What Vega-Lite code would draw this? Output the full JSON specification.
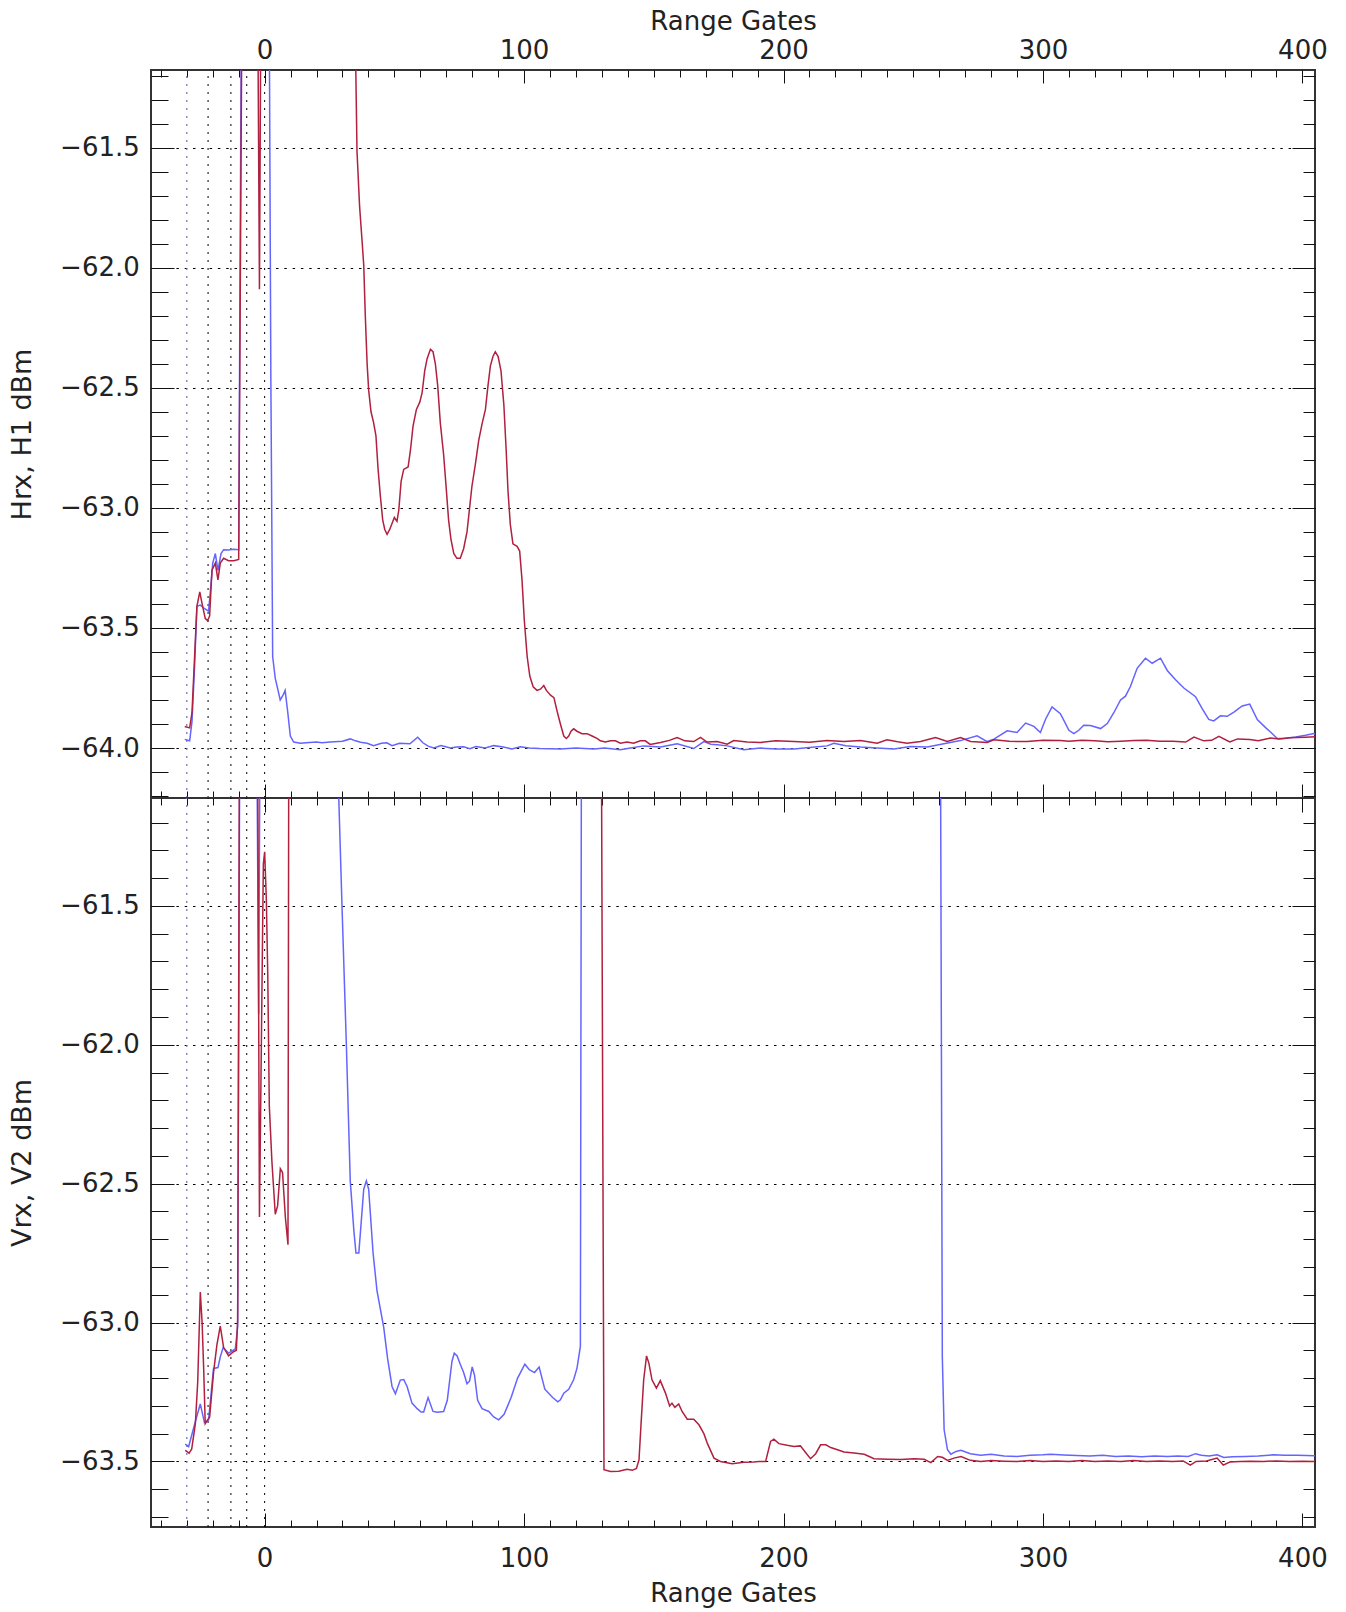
{
  "$schema": "https://vega.github.io/schema/vega-lite/v6.json",
  "background": "white",
  "padding": {"left": 7, "top": 7, "right": 5, "bottom": 5},
  "spacing": 0,
  "bounds": "flush",
  "config": {
    "view": {"stroke": "#333333", "strokeWidth": 2},
    "axis": {
      "labelFont": "DejaVu Sans", "titleFont": "DejaVu Sans",
      "labelFontSize": 26, "titleFontSize": 26,
      "labelColor": "#222222", "titleColor": "#222222",
      "titleFontWeight": "normal",
      "tickColor": "#111111", "tickWidth": 1,
      "domain": false, "grid": false,
      "labelFlush": false, "labelOverlap": false
    }
  },
  "datasets": {
    "hb": [
      {"g": -30.8, "v": -63.964}, {"g": -28.9, "v": -63.97}, {"g": -28.0, "v": -63.89}, {"g": -27.0, "v": -63.66},
      {"g": -26.1, "v": -63.41}, {"g": -24.8, "v": -63.405}, {"g": -23.1, "v": -63.42}, {"g": -21.6, "v": -63.43},
      {"g": -20.7, "v": -63.32}, {"g": -20.0, "v": -63.23}, {"g": -19.0, "v": -63.19}, {"g": -18.0, "v": -63.26},
      {"g": -16.8, "v": -63.19}, {"g": -15.8, "v": -63.174}, {"g": -13.9, "v": -63.175}, {"g": -11.9, "v": -63.172},
      {"g": -10.0, "v": -63.174}, {"g": -9.0, "v": -61.0}, {"g": 1.8, "v": -61.0}, {"g": 2.4, "v": -62.47},
      {"g": 3.1, "v": -63.62}, {"g": 4.1, "v": -63.71}, {"g": 5.1, "v": -63.757}, {"g": 6.0, "v": -63.8},
      {"g": 7.1, "v": -63.78}, {"g": 7.9, "v": -63.76}, {"g": 8.9, "v": -63.85}, {"g": 9.9, "v": -63.95},
      {"g": 11.2, "v": -63.975}, {"g": 13.8, "v": -63.98}, {"g": 16, "v": -63.978}, {"g": 20, "v": -63.975},
      {"g": 22.1, "v": -63.978}, {"g": 25.3, "v": -63.975}, {"g": 30, "v": -63.972}, {"g": 33, "v": -63.962},
      {"g": 35, "v": -63.97}, {"g": 37, "v": -63.976}, {"g": 39.5, "v": -63.98}, {"g": 42, "v": -63.99},
      {"g": 45, "v": -63.98}, {"g": 47.1, "v": -63.978}, {"g": 49.1, "v": -63.99}, {"g": 52, "v": -63.98},
      {"g": 56, "v": -63.982}, {"g": 59, "v": -63.955}, {"g": 61, "v": -63.978}, {"g": 63, "v": -63.992},
      {"g": 65.2, "v": -64.0}, {"g": 68, "v": -63.99}, {"g": 71.6, "v": -64.0}, {"g": 74, "v": -63.996},
      {"g": 76.7, "v": -63.995}, {"g": 79.1, "v": -64.003}, {"g": 81.5, "v": -63.994}, {"g": 85, "v": -64.0},
      {"g": 88.3, "v": -63.99}, {"g": 92, "v": -63.996}, {"g": 95.3, "v": -64.004}, {"g": 98.5, "v": -63.995},
      {"g": 102, "v": -64.0}, {"g": 106, "v": -64.002}, {"g": 110, "v": -64.003}, {"g": 114, "v": -64.004},
      {"g": 120, "v": -64.0}, {"g": 126.9, "v": -64.004}, {"g": 131, "v": -64.0}, {"g": 137.1, "v": -64.007},
      {"g": 141, "v": -64.0}, {"g": 146.1, "v": -63.991}, {"g": 152.6, "v": -63.996}, {"g": 159.0, "v": -63.982},
      {"g": 165.4, "v": -64.002}, {"g": 169.3, "v": -63.973}, {"g": 172, "v": -63.984}, {"g": 174.4, "v": -63.986},
      {"g": 178.3, "v": -63.991}, {"g": 184.7, "v": -64.007}, {"g": 191.1, "v": -64.0}, {"g": 197, "v": -64.004},
      {"g": 204.0, "v": -64.004}, {"g": 210, "v": -63.998}, {"g": 216.8, "v": -63.991}, {"g": 219.4, "v": -63.98},
      {"g": 224, "v": -63.99}, {"g": 229.7, "v": -63.996}, {"g": 236, "v": -64.0}, {"g": 242.5, "v": -64.004},
      {"g": 248.9, "v": -63.994}, {"g": 255.4, "v": -63.996}, {"g": 261.8, "v": -63.982}, {"g": 268.2, "v": -63.969},
      {"g": 274.6, "v": -63.949}, {"g": 278.5, "v": -63.973}, {"g": 281.1, "v": -63.963}, {"g": 286.2, "v": -63.928},
      {"g": 290.0, "v": -63.935}, {"g": 293.3, "v": -63.896}, {"g": 296.5, "v": -63.91}, {"g": 299.0, "v": -63.935},
      {"g": 301, "v": -63.88}, {"g": 303.5, "v": -63.829}, {"g": 306.7, "v": -63.857}, {"g": 308.0, "v": -63.884},
      {"g": 310.0, "v": -63.926}, {"g": 311.9, "v": -63.94}, {"g": 313.8, "v": -63.926}, {"g": 315.7, "v": -63.905},
      {"g": 318.3, "v": -63.906}, {"g": 322.2, "v": -63.919}, {"g": 324.8, "v": -63.898}, {"g": 327.3, "v": -63.853},
      {"g": 329.9, "v": -63.8}, {"g": 331.8, "v": -63.784}, {"g": 333.7, "v": -63.744}, {"g": 336.3, "v": -63.668},
      {"g": 339.5, "v": -63.626}, {"g": 342.1, "v": -63.647}, {"g": 345.3, "v": -63.626}, {"g": 347.9, "v": -63.677},
      {"g": 351.1, "v": -63.716}, {"g": 354.3, "v": -63.75}, {"g": 358.8, "v": -63.786}, {"g": 361.3, "v": -63.835},
      {"g": 363.9, "v": -63.881}, {"g": 365.8, "v": -63.887}, {"g": 368.4, "v": -63.866}, {"g": 371.0, "v": -63.868},
      {"g": 373.6, "v": -63.85}, {"g": 376.8, "v": -63.825}, {"g": 379.7, "v": -63.817}, {"g": 382.6, "v": -63.881},
      {"g": 385.8, "v": -63.915}, {"g": 387.7, "v": -63.933}, {"g": 390.3, "v": -63.96}, {"g": 393.0, "v": -63.96},
      {"g": 397.4, "v": -63.954}, {"g": 401.2, "v": -63.947}, {"g": 404.4, "v": -63.94}, {"g": 405.5, "v": -63.945}
    ],
    "hr": [
      {"g": -30.8, "v": -63.91}, {"g": -28.9, "v": -63.916}, {"g": -28.0, "v": -63.853}, {"g": -27.0, "v": -63.62},
      {"g": -26.1, "v": -63.41}, {"g": -25.0, "v": -63.35}, {"g": -24.1, "v": -63.4}, {"g": -22.9, "v": -63.46},
      {"g": -22.0, "v": -63.47}, {"g": -21.2, "v": -63.45}, {"g": -20.3, "v": -63.26}, {"g": -19.0, "v": -63.23},
      {"g": -18.0, "v": -63.3}, {"g": -17.1, "v": -63.23}, {"g": -15.8, "v": -63.21}, {"g": -13.9, "v": -63.22},
      {"g": -11.9, "v": -63.22}, {"g": -10.0, "v": -63.215}, {"g": -8.8, "v": -61.0}, {"g": -2.6, "v": -61.0},
      {"g": -2.0, "v": -62.09}, {"g": -1.5, "v": -61.0}, {"g": 34.9, "v": -61.0}, {"g": 35.6, "v": -61.515},
      {"g": 36.6, "v": -61.745}, {"g": 37.5, "v": -61.88}, {"g": 38.2, "v": -61.99}, {"g": 38.8, "v": -62.2},
      {"g": 39.5, "v": -62.4}, {"g": 40.1, "v": -62.51}, {"g": 41.0, "v": -62.6}, {"g": 42.0, "v": -62.645},
      {"g": 42.9, "v": -62.7}, {"g": 43.7, "v": -62.835}, {"g": 44.6, "v": -62.95}, {"g": 45.5, "v": -63.05},
      {"g": 46.3, "v": -63.09}, {"g": 47.2, "v": -63.11}, {"g": 48.2, "v": -63.09}, {"g": 49.1, "v": -63.065},
      {"g": 50.0, "v": -63.04}, {"g": 51.0, "v": -63.056}, {"g": 51.7, "v": -63.01}, {"g": 52.6, "v": -62.89},
      {"g": 53.6, "v": -62.84}, {"g": 55.3, "v": -62.83}, {"g": 56.2, "v": -62.76}, {"g": 57.2, "v": -62.66},
      {"g": 58.5, "v": -62.59}, {"g": 59.8, "v": -62.56}, {"g": 60.7, "v": -62.52}, {"g": 61.7, "v": -62.43},
      {"g": 62.6, "v": -62.38}, {"g": 63.9, "v": -62.34}, {"g": 64.9, "v": -62.35}, {"g": 65.8, "v": -62.4},
      {"g": 66.7, "v": -62.49}, {"g": 67.7, "v": -62.645}, {"g": 69.0, "v": -62.78}, {"g": 70.0, "v": -62.92},
      {"g": 70.9, "v": -63.05}, {"g": 71.8, "v": -63.13}, {"g": 72.9, "v": -63.19}, {"g": 74.1, "v": -63.21},
      {"g": 75.4, "v": -63.21}, {"g": 76.7, "v": -63.17}, {"g": 78.0, "v": -63.1}, {"g": 79.1, "v": -62.99},
      {"g": 79.9, "v": -62.91}, {"g": 81.2, "v": -62.82}, {"g": 82.5, "v": -62.72}, {"g": 83.8, "v": -62.65},
      {"g": 85.1, "v": -62.59}, {"g": 86.1, "v": -62.49}, {"g": 87.0, "v": -62.41}, {"g": 88.0, "v": -62.37},
      {"g": 88.9, "v": -62.35}, {"g": 90.0, "v": -62.37}, {"g": 91.1, "v": -62.43}, {"g": 92.2, "v": -62.57},
      {"g": 93.1, "v": -62.76}, {"g": 93.8, "v": -62.93}, {"g": 94.7, "v": -63.07}, {"g": 95.7, "v": -63.15},
      {"g": 97.3, "v": -63.16}, {"g": 98.3, "v": -63.18}, {"g": 99.2, "v": -63.3}, {"g": 100.1, "v": -63.47},
      {"g": 101.2, "v": -63.62}, {"g": 102.2, "v": -63.7}, {"g": 103.5, "v": -63.745}, {"g": 105.0, "v": -63.76},
      {"g": 106.3, "v": -63.755}, {"g": 107.6, "v": -63.74}, {"g": 108.6, "v": -63.76}, {"g": 110.2, "v": -63.78},
      {"g": 111.5, "v": -63.79}, {"g": 112.8, "v": -63.85}, {"g": 114.0, "v": -63.9}, {"g": 115.3, "v": -63.95},
      {"g": 116.3, "v": -63.96}, {"g": 117.2, "v": -63.95}, {"g": 118.1, "v": -63.93}, {"g": 119.1, "v": -63.92},
      {"g": 120.4, "v": -63.93}, {"g": 122.3, "v": -63.94}, {"g": 124.3, "v": -63.94}, {"g": 126.2, "v": -63.95},
      {"g": 128.1, "v": -63.96}, {"g": 129.4, "v": -63.97}, {"g": 131.3, "v": -63.975}, {"g": 133.3, "v": -63.97},
      {"g": 135.2, "v": -63.97}, {"g": 137.1, "v": -63.98}, {"g": 139.7, "v": -63.975}, {"g": 142.2, "v": -63.98},
      {"g": 144.8, "v": -63.97}, {"g": 146.7, "v": -63.97}, {"g": 148.6, "v": -63.985}, {"g": 152.6, "v": -63.977},
      {"g": 156, "v": -63.968}, {"g": 159.0, "v": -63.956}, {"g": 162, "v": -63.97}, {"g": 165.4, "v": -63.973},
      {"g": 168.0, "v": -63.956}, {"g": 170.5, "v": -63.975}, {"g": 174.4, "v": -63.973}, {"g": 178.3, "v": -63.984},
      {"g": 180.8, "v": -63.969}, {"g": 186, "v": -63.975}, {"g": 191.1, "v": -63.977}, {"g": 197, "v": -63.97},
      {"g": 204.0, "v": -63.973}, {"g": 210, "v": -63.976}, {"g": 216.8, "v": -63.969}, {"g": 223.2, "v": -63.973},
      {"g": 229.7, "v": -63.969}, {"g": 236.1, "v": -63.98}, {"g": 239.9, "v": -63.966}, {"g": 244, "v": -63.974},
      {"g": 247.6, "v": -63.98}, {"g": 252.8, "v": -63.973}, {"g": 258.6, "v": -63.956}, {"g": 263.1, "v": -63.973},
      {"g": 268.2, "v": -63.956}, {"g": 272.1, "v": -63.973}, {"g": 278.5, "v": -63.977}, {"g": 281.1, "v": -63.966},
      {"g": 287, "v": -63.972}, {"g": 293.9, "v": -63.973}, {"g": 300, "v": -63.968}, {"g": 306.7, "v": -63.969},
      {"g": 310, "v": -63.972}, {"g": 315, "v": -63.968}, {"g": 320, "v": -63.97}, {"g": 325, "v": -63.974},
      {"g": 330, "v": -63.972}, {"g": 335, "v": -63.969}, {"g": 340, "v": -63.968}, {"g": 345, "v": -63.972},
      {"g": 350, "v": -63.972}, {"g": 355, "v": -63.975}, {"g": 358.2, "v": -63.954}, {"g": 362, "v": -63.97},
      {"g": 365, "v": -63.968}, {"g": 367.8, "v": -63.951}, {"g": 372, "v": -63.975}, {"g": 375, "v": -63.962},
      {"g": 379.7, "v": -63.964}, {"g": 383, "v": -63.97}, {"g": 387.7, "v": -63.958}, {"g": 391, "v": -63.962},
      {"g": 395, "v": -63.957}, {"g": 401, "v": -63.955}, {"g": 405.5, "v": -63.953}
    ],
    "vb": [
      {"g": -30.6, "v": -63.438}, {"g": -29.3, "v": -63.447}, {"g": -26.7, "v": -63.356}, {"g": -24.8, "v": -63.293},
      {"g": -23.2, "v": -63.36}, {"g": -21.6, "v": -63.35}, {"g": -19.7, "v": -63.165}, {"g": -18.0, "v": -63.162},
      {"g": -17.1, "v": -63.124}, {"g": -16.0, "v": -63.09}, {"g": -13.9, "v": -63.11}, {"g": -11.3, "v": -63.095},
      {"g": -10.4, "v": -63.016}, {"g": -9.6, "v": -60.9}, {"g": -3.0, "v": -60.9}, {"g": -2.3, "v": -61.89},
      {"g": -1.8, "v": -60.9}, {"g": 27.9, "v": -60.9}, {"g": 29.8, "v": -61.495}, {"g": 31.5, "v": -62.0},
      {"g": 33.0, "v": -62.49}, {"g": 34.4, "v": -62.67}, {"g": 35.2, "v": -62.75}, {"g": 36.3, "v": -62.75},
      {"g": 38.2, "v": -62.52}, {"g": 39.2, "v": -62.49}, {"g": 40.1, "v": -62.52}, {"g": 41.8, "v": -62.75},
      {"g": 43.3, "v": -62.885}, {"g": 45.9, "v": -63.017}, {"g": 47.4, "v": -63.13}, {"g": 49.1, "v": -63.23},
      {"g": 50.4, "v": -63.256}, {"g": 52.3, "v": -63.207}, {"g": 53.6, "v": -63.205}, {"g": 54.9, "v": -63.23},
      {"g": 56.8, "v": -63.29}, {"g": 58.8, "v": -63.31}, {"g": 60.3, "v": -63.322}, {"g": 61.3, "v": -63.322},
      {"g": 63.0, "v": -63.27}, {"g": 64.9, "v": -63.32}, {"g": 66.5, "v": -63.323}, {"g": 69.0, "v": -63.32},
      {"g": 70.4, "v": -63.28}, {"g": 72.2, "v": -63.14}, {"g": 73.1, "v": -63.11}, {"g": 74.2, "v": -63.12},
      {"g": 75.4, "v": -63.15}, {"g": 76.7, "v": -63.18}, {"g": 78.0, "v": -63.22}, {"g": 79.0, "v": -63.21},
      {"g": 80.0, "v": -63.16}, {"g": 80.9, "v": -63.19}, {"g": 82.1, "v": -63.28}, {"g": 83.8, "v": -63.31},
      {"g": 86.4, "v": -63.32}, {"g": 88.3, "v": -63.34}, {"g": 90.2, "v": -63.35}, {"g": 92.3, "v": -63.33},
      {"g": 95.0, "v": -63.27}, {"g": 97.5, "v": -63.2}, {"g": 100.3, "v": -63.15}, {"g": 102.0, "v": -63.17},
      {"g": 104.0, "v": -63.18}, {"g": 105.8, "v": -63.16}, {"g": 108.0, "v": -63.24}, {"g": 111.0, "v": -63.27},
      {"g": 113.0, "v": -63.285}, {"g": 114.0, "v": -63.278}, {"g": 115.3, "v": -63.254}, {"g": 117.2, "v": -63.24},
      {"g": 119.1, "v": -63.206}, {"g": 120.4, "v": -63.164}, {"g": 121.7, "v": -63.086}, {"g": 122.1, "v": -60.9},
      {"g": 260.5, "v": -60.9}, {"g": 261.2, "v": -63.122}, {"g": 261.9, "v": -63.386}, {"g": 263.2, "v": -63.458},
      {"g": 264.5, "v": -63.474}, {"g": 266.5, "v": -63.464}, {"g": 268.4, "v": -63.46}, {"g": 272, "v": -63.472},
      {"g": 276, "v": -63.478}, {"g": 280, "v": -63.474}, {"g": 285, "v": -63.48}, {"g": 290, "v": -63.482},
      {"g": 295, "v": -63.478}, {"g": 300, "v": -63.476}, {"g": 303, "v": -63.474}, {"g": 308, "v": -63.477},
      {"g": 313, "v": -63.479}, {"g": 318, "v": -63.48}, {"g": 323, "v": -63.478}, {"g": 328, "v": -63.482},
      {"g": 333, "v": -63.48}, {"g": 338, "v": -63.483}, {"g": 343, "v": -63.48}, {"g": 348, "v": -63.482},
      {"g": 352, "v": -63.48}, {"g": 356, "v": -63.482}, {"g": 358.8, "v": -63.472}, {"g": 361, "v": -63.478},
      {"g": 364, "v": -63.48}, {"g": 367.1, "v": -63.476}, {"g": 369.7, "v": -63.486}, {"g": 373, "v": -63.483},
      {"g": 378, "v": -63.482}, {"g": 383, "v": -63.48}, {"g": 388.9, "v": -63.476}, {"g": 393, "v": -63.478},
      {"g": 398, "v": -63.478}, {"g": 405.5, "v": -63.48}
    ],
    "vr": [
      {"g": -30.6, "v": -63.46}, {"g": -29.1, "v": -63.47}, {"g": -28.1, "v": -63.455}, {"g": -26.7, "v": -63.364},
      {"g": -25.8, "v": -63.215}, {"g": -24.8, "v": -62.89}, {"g": -24.1, "v": -63.0}, {"g": -23.5, "v": -63.165},
      {"g": -22.9, "v": -63.364}, {"g": -21.2, "v": -63.34}, {"g": -19.7, "v": -63.18}, {"g": -18.4, "v": -63.08},
      {"g": -17.1, "v": -63.013}, {"g": -15.8, "v": -63.09}, {"g": -13.9, "v": -63.12}, {"g": -12.0, "v": -63.105},
      {"g": -10.9, "v": -63.1}, {"g": -10.4, "v": -62.99}, {"g": -9.7, "v": -60.9}, {"g": -2.7, "v": -60.9},
      {"g": -2.0, "v": -62.62}, {"g": -0.5, "v": -61.35}, {"g": 0.0, "v": -61.305}, {"g": 0.66, "v": -61.478},
      {"g": 1.2, "v": -61.743}, {"g": 1.8, "v": -62.22}, {"g": 2.8, "v": -62.42}, {"g": 4.1, "v": -62.61},
      {"g": 5.0, "v": -62.58}, {"g": 6.05, "v": -62.446}, {"g": 6.9, "v": -62.46}, {"g": 7.98, "v": -62.62},
      {"g": 9.0, "v": -62.72}, {"g": 9.3, "v": -60.9}, {"g": 129.8, "v": -60.9}, {"g": 130.8, "v": -63.53},
      {"g": 133.3, "v": -63.536}, {"g": 136.5, "v": -63.535}, {"g": 139.7, "v": -63.528}, {"g": 141.7, "v": -63.532},
      {"g": 143.3, "v": -63.525}, {"g": 144.3, "v": -63.494}, {"g": 145.1, "v": -63.362}, {"g": 146.1, "v": -63.206},
      {"g": 147.2, "v": -63.12}, {"g": 148.1, "v": -63.146}, {"g": 149.3, "v": -63.206}, {"g": 151.0, "v": -63.236},
      {"g": 152.5, "v": -63.209}, {"g": 154.5, "v": -63.254}, {"g": 156.1, "v": -63.3}, {"g": 157.0, "v": -63.29},
      {"g": 158.1, "v": -63.305}, {"g": 159.6, "v": -63.293}, {"g": 160.9, "v": -63.32}, {"g": 162.9, "v": -63.348},
      {"g": 165.4, "v": -63.348}, {"g": 167.4, "v": -63.368}, {"g": 169.3, "v": -63.4}, {"g": 170.6, "v": -63.434},
      {"g": 173.2, "v": -63.488}, {"g": 175.7, "v": -63.5}, {"g": 180.2, "v": -63.508}, {"g": 184.7, "v": -63.503},
      {"g": 188.5, "v": -63.502}, {"g": 190.5, "v": -63.5}, {"g": 193.1, "v": -63.5}, {"g": 195.0, "v": -63.428},
      {"g": 196.3, "v": -63.42}, {"g": 198.2, "v": -63.436}, {"g": 201.4, "v": -63.442}, {"g": 204.0, "v": -63.446},
      {"g": 206.5, "v": -63.444}, {"g": 208.5, "v": -63.468}, {"g": 210.4, "v": -63.49}, {"g": 212.4, "v": -63.472},
      {"g": 214.3, "v": -63.44}, {"g": 216.3, "v": -63.44}, {"g": 218.2, "v": -63.45}, {"g": 220.8, "v": -63.458},
      {"g": 223.3, "v": -63.466}, {"g": 227.2, "v": -63.47}, {"g": 231.1, "v": -63.474}, {"g": 233.0, "v": -63.482},
      {"g": 234.9, "v": -63.49}, {"g": 240.1, "v": -63.492}, {"g": 245.2, "v": -63.493}, {"g": 250.3, "v": -63.49},
      {"g": 254.2, "v": -63.492}, {"g": 256.8, "v": -63.504}, {"g": 259.4, "v": -63.482}, {"g": 261.2, "v": -63.485},
      {"g": 263.2, "v": -63.496}, {"g": 265.7, "v": -63.488}, {"g": 268.4, "v": -63.482}, {"g": 272, "v": -63.496},
      {"g": 276, "v": -63.5}, {"g": 280, "v": -63.497}, {"g": 285, "v": -63.499}, {"g": 290, "v": -63.5},
      {"g": 295, "v": -63.497}, {"g": 300, "v": -63.5}, {"g": 305, "v": -63.498}, {"g": 310, "v": -63.5},
      {"g": 315, "v": -63.497}, {"g": 320, "v": -63.5}, {"g": 325, "v": -63.498}, {"g": 330, "v": -63.5},
      {"g": 335, "v": -63.497}, {"g": 340, "v": -63.5}, {"g": 345, "v": -63.498}, {"g": 350, "v": -63.5},
      {"g": 354, "v": -63.498}, {"g": 356.8, "v": -63.513}, {"g": 359, "v": -63.5}, {"g": 363, "v": -63.498},
      {"g": 367.1, "v": -63.488}, {"g": 369.5, "v": -63.513}, {"g": 372, "v": -63.502}, {"g": 376, "v": -63.5},
      {"g": 380, "v": -63.499}, {"g": 385, "v": -63.5}, {"g": 390, "v": -63.498}, {"g": 395, "v": -63.5},
      {"g": 400, "v": -63.499}, {"g": 405.5, "v": -63.5}
    ],
    "vpurple": [{"g": -30}],
    "vblack": [{"g": -21.8}, {"g": -13}, {"g": -6.9}, {"g": 0}]
  },
  "vconcat": [
    {
      "width": 1164,
      "height": 728,
      "resolve": {"axis": {"x": "independent", "y": "independent"}},
      "layer": [
        {
          "data": {"name": "vpurple"},
          "mark": {"type": "rule", "stroke": "#6e6eb0", "strokeDash": [2, 6], "strokeWidth": 1.2},
          "encoding": {
            "x": {"field": "g", "type": "quantitative", "scale": {"domain": [-43.8, 404.85], "nice": false, "zero": false},
              "axis": {"orient": "bottom", "title": null, "labels": false, "tickSize": -7,
                "values": [-40,-30,-20,-10,10,20,30,40,50,60,70,80,90,110,120,130,140,150,160,170,180,190,210,220,230,240,250,260,270,280,290,310,320,330,340,350,360,370,380,390]}},
            "y": {"datum": -64.208, "type": "quantitative", "scale": {"domain": [-64.208, -61.177], "nice": false, "zero": false},
              "axis": {"orient": "right", "title": null, "labels": false, "tickSize": -12,
                "values": [-61.2,-61.3,-61.4,-61.6,-61.7,-61.8,-61.9,-62.1,-62.2,-62.3,-62.4,-62.6,-62.7,-62.8,-62.9,-63.1,-63.2,-63.3,-63.4,-63.6,-63.7,-63.8,-63.9,-64.1,-64.2]}},
            "y2": {"datum": -61.177}
          }
        },
        {
          "data": {"name": "vblack"},
          "mark": {"type": "rule", "stroke": "#000000", "strokeDash": [2, 6], "strokeWidth": 1},
          "encoding": {
            "x": {"field": "g", "type": "quantitative", "scale": {"domain": [-43.8, 404.85], "nice": false, "zero": false},
              "axis": {"orient": "top", "title": null, "labels": false, "tickSize": -7,
                "values": [-40,-30,-20,-10,10,20,30,40,50,60,70,80,90,110,120,130,140,150,160,170,180,190,210,220,230,240,250,260,270,280,290,310,320,330,340,350,360,370,380,390]}},
            "y": {"datum": -64.208, "type": "quantitative", "scale": {"domain": [-64.208, -61.177], "nice": false, "zero": false},
              "axis": {"orient": "right", "title": null, "labels": false, "tickSize": -23,
                "values": [-61.5,-62,-62.5,-63,-63.5,-64]}},
            "y2": {"datum": -61.177}
          }
        },
        {
          "data": {"name": "hb"},
          "mark": {"type": "line", "clip": true, "stroke": "#6464ff", "strokeWidth": 1.5},
          "encoding": {
            "x": {"field": "g", "type": "quantitative", "scale": {"domain": [-43.8, 404.85], "nice": false, "zero": false},
              "axis": {"orient": "top", "title": "Range Gates", "titlePadding": 3, "tickSize": -13, "labelPadding": 20,
                "format": "d", "values": [0, 100, 200, 300, 400]}},
            "y": {"field": "v", "type": "quantitative", "scale": {"domain": [-64.208, -61.177], "nice": false, "zero": false},
              "axis": {"orient": "left", "title": "Hrx, H1 dBm", "titleFontSize": 27, "titlePadding": 23, "tickSize": -23, "labelPadding": 34.7,
                "format": ".1f", "values": [-61.5,-62,-62.5,-63,-63.5,-64],
                "grid": true, "gridColor": "#000000", "gridDash": [2.5, 5.8], "gridWidth": 1}}
          }
        },
        {
          "data": {"name": "hr"},
          "mark": {"type": "line", "clip": true, "stroke": "#b0203f", "strokeWidth": 1.5},
          "encoding": {
            "x": {"field": "g", "type": "quantitative", "scale": {"domain": [-43.8, 404.85], "nice": false, "zero": false},
              "axis": {"orient": "bottom", "title": null, "labels": false, "tickSize": -14, "values": [0, 100, 200, 300, 400]}},
            "y": {"field": "v", "type": "quantitative", "scale": {"domain": [-64.208, -61.177], "nice": false, "zero": false},
              "axis": {"orient": "left", "title": null, "labels": false, "tickSize": -17,
                "values": [-61.2,-61.3,-61.4,-61.6,-61.7,-61.8,-61.9,-62.1,-62.2,-62.3,-62.4,-62.6,-62.7,-62.8,-62.9,-63.1,-63.2,-63.3,-63.4,-63.6,-63.7,-63.8,-63.9,-64.1,-64.2]}}
          }
        }
      ]
    },
    {
      "width": 1164,
      "height": 729,
      "resolve": {"axis": {"x": "independent", "y": "independent"}},
      "layer": [
        {
          "data": {"name": "vpurple"},
          "mark": {"type": "rule", "stroke": "#6e6eb0", "strokeDash": [2, 6], "strokeWidth": 1.2},
          "encoding": {
            "x": {"field": "g", "type": "quantitative", "scale": {"domain": [-43.8, 404.85], "nice": false, "zero": false},
              "axis": {"orient": "top", "title": null, "labels": false, "tickSize": -7,
                "values": [-40,-30,-20,-10,10,20,30,40,50,60,70,80,90,110,120,130,140,150,160,170,180,190,210,220,230,240,250,260,270,280,290,310,320,330,340,350,360,370,380,390]}},
            "y": {"datum": -63.736, "type": "quantitative", "scale": {"domain": [-63.736, -61.1115], "nice": false, "zero": false},
              "axis": {"orient": "right", "title": null, "labels": false, "tickSize": -12,
                "values": [-61.2,-61.3,-61.4,-61.6,-61.7,-61.8,-61.9,-62.1,-62.2,-62.3,-62.4,-62.6,-62.7,-62.8,-62.9,-63.1,-63.2,-63.3,-63.4,-63.6,-63.7]}},
            "y2": {"datum": -61.1115}
          }
        },
        {
          "data": {"name": "vblack"},
          "mark": {"type": "rule", "stroke": "#000000", "strokeDash": [2, 6], "strokeWidth": 1},
          "encoding": {
            "x": {"field": "g", "type": "quantitative", "scale": {"domain": [-43.8, 404.85], "nice": false, "zero": false},
              "axis": {"orient": "top", "title": null, "labels": false, "tickSize": -14, "values": [0, 100, 200, 300, 400]}},
            "y": {"datum": -63.736, "type": "quantitative", "scale": {"domain": [-63.736, -61.1115], "nice": false, "zero": false},
              "axis": {"orient": "right", "title": null, "labels": false, "tickSize": -23,
                "values": [-61.5,-62,-62.5,-63,-63.5]}},
            "y2": {"datum": -61.1115}
          }
        },
        {
          "data": {"name": "vb"},
          "mark": {"type": "line", "clip": true, "stroke": "#6464ff", "strokeWidth": 1.5},
          "encoding": {
            "x": {"field": "g", "type": "quantitative", "scale": {"domain": [-43.8, 404.85], "nice": false, "zero": false},
              "axis": {"orient": "bottom", "title": "Range Gates", "titlePadding": 9, "tickSize": -14, "labelPadding": 32,
                "format": "d", "values": [0, 100, 200, 300, 400]}},
            "y": {"field": "v", "type": "quantitative", "scale": {"domain": [-63.736, -61.1115], "nice": false, "zero": false},
              "axis": {"orient": "left", "title": "Vrx, V2 dBm", "titleFontSize": 27, "titlePadding": 23, "tickSize": -23, "labelPadding": 34.7,
                "format": ".1f", "values": [-61.5,-62,-62.5,-63,-63.5],
                "grid": true, "gridColor": "#000000", "gridDash": [2.5, 5.8], "gridWidth": 1}}
          }
        },
        {
          "data": {"name": "vr"},
          "mark": {"type": "line", "clip": true, "stroke": "#b0203f", "strokeWidth": 1.5},
          "encoding": {
            "x": {"field": "g", "type": "quantitative", "scale": {"domain": [-43.8, 404.85], "nice": false, "zero": false},
              "axis": {"orient": "bottom", "title": null, "labels": false, "tickSize": -7,
                "values": [-40,-30,-20,-10,10,20,30,40,50,60,70,80,90,110,120,130,140,150,160,170,180,190,210,220,230,240,250,260,270,280,290,310,320,330,340,350,360,370,380,390]}},
            "y": {"field": "v", "type": "quantitative", "scale": {"domain": [-63.736, -61.1115], "nice": false, "zero": false},
              "axis": {"orient": "left", "title": null, "labels": false, "tickSize": -17,
                "values": [-61.2,-61.3,-61.4,-61.6,-61.7,-61.8,-61.9,-62.1,-62.2,-62.3,-62.4,-62.6,-62.7,-62.8,-62.9,-63.1,-63.2,-63.3,-63.4,-63.6,-63.7]}}
          }
        }
      ]
    }
  ]
}
